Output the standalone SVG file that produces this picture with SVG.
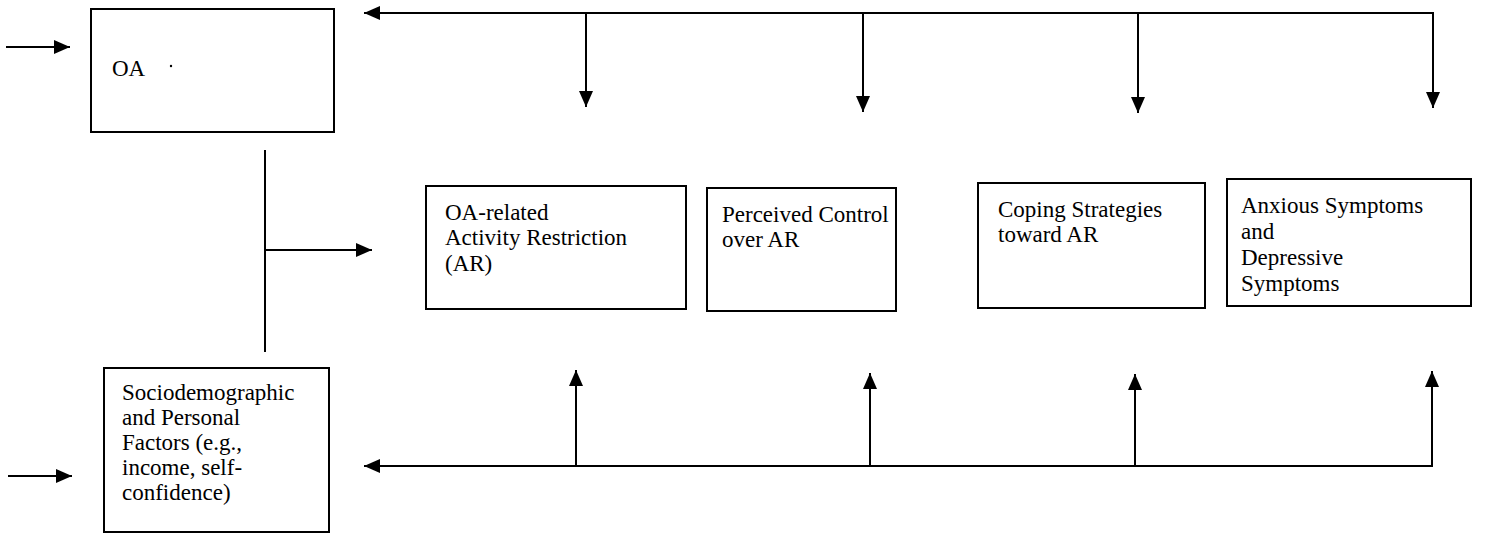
<svg xmlns="http://www.w3.org/2000/svg" width="1491" height="533" viewBox="0 0 1491 533">
<style>
.box{fill:#fff;stroke:#000;stroke-width:2}
.t{font-family:"Liberation Serif","Times New Roman",serif;font-size:23px;fill:#000}
.ln{fill:none;stroke:#000;stroke-width:2}
</style>
<defs>
<marker id="ah" viewBox="0 0 16 14" refX="16" refY="7" markerWidth="16" markerHeight="14" markerUnits="userSpaceOnUse" orient="auto">
<path d="M0,0 L16,7 L0,14 Z" fill="#000"/>
</marker>
</defs>
<rect width="1491" height="533" fill="#fff"/>
<g id="connectors">
<line class="ln" x1="6" y1="47" x2="70" y2="47" marker-end="url(#ah)"/>
<line class="ln" x1="8" y1="476" x2="72" y2="476" marker-end="url(#ah)"/>
<polyline class="ln" points="1433,96 1433,13 364,13" marker-end="url(#ah)"/>
<line class="ln" x1="586" y1="14" x2="586" y2="107" marker-end="url(#ah)"/>
<line class="ln" x1="863" y1="14" x2="863" y2="112" marker-end="url(#ah)"/>
<line class="ln" x1="1138" y1="14" x2="1138" y2="113" marker-end="url(#ah)"/>
<line class="ln" x1="1433" y1="13" x2="1433" y2="108" marker-end="url(#ah)"/>
<line class="ln" x1="265" y1="150" x2="265" y2="352"/>
<line class="ln" x1="265" y1="250" x2="372" y2="250" marker-end="url(#ah)"/>
<polyline class="ln" points="1432,380 1432,466 364,466" marker-end="url(#ah)"/>
<line class="ln" x1="576" y1="466" x2="576" y2="370" marker-end="url(#ah)"/>
<line class="ln" x1="870" y1="466" x2="870" y2="373" marker-end="url(#ah)"/>
<line class="ln" x1="1135" y1="466" x2="1135" y2="374" marker-end="url(#ah)"/>
<line class="ln" x1="1432" y1="466" x2="1432" y2="371" marker-end="url(#ah)"/>
</g>
<g id="oa">
<rect class="box" x="91" y="9" width="243" height="123"/>
<text class="t" x="112" y="76">OA</text>
<circle cx="171" cy="66" r="1.2" fill="#000"/>
</g>
<g id="socio">
<rect class="box" x="104" y="368" width="225" height="164"/>
<text class="t"><tspan x="122" y="400">Sociodemographic</tspan><tspan x="122" y="425">and Personal</tspan><tspan x="122" y="450">Factors (e.g.,</tspan><tspan x="122" y="475">income, self-</tspan><tspan x="122" y="500">confidence)</tspan></text>
</g>
<g id="ar">
<rect class="box" x="426" y="186" width="260" height="123"/>
<text class="t"><tspan x="445" y="220">OA-related</tspan><tspan x="445" y="245">Activity Restriction</tspan><tspan x="445" y="271">(AR)</tspan></text>
</g>
<g id="control">
<rect class="box" x="707" y="188" width="189" height="123"/>
<text class="t"><tspan x="722" y="222">Perceived Control</tspan><tspan x="722" y="247">over AR</tspan></text>
</g>
<g id="coping">
<rect class="box" x="978" y="183" width="227" height="125"/>
<text class="t"><tspan x="998" y="217">Coping Strategies</tspan><tspan x="998" y="242">toward AR</tspan></text>
</g>
<g id="symptoms">
<rect class="box" x="1227" y="179" width="244" height="127"/>
<text class="t"><tspan x="1241" y="213">Anxious Symptoms</tspan><tspan x="1241" y="239">and</tspan><tspan x="1241" y="265">Depressive</tspan><tspan x="1241" y="291">Symptoms</tspan></text>
</g>
</svg>
